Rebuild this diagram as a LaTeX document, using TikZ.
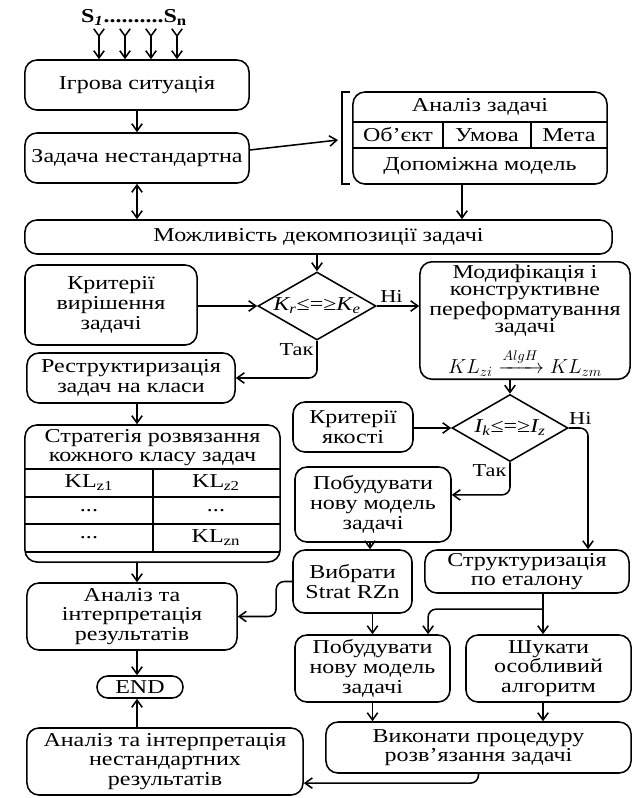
\documentclass[tikz,border=0pt]{standalone}
\usepackage{fontspec}
\setmainfont[FakeStretch=1.22]{Liberation Serif}
\usepackage{amsmath}
\usetikzlibrary{arrows.meta,shapes.geometric,calc}
\tikzset{
	blk/.style={draw, line width=1.1pt, rounded corners=3mm, align=center, inner sep=2pt},
	dia/.style={draw, diamond, line width=1.1pt, inner sep=0pt},
	arr/.style={line width=1.1pt, rounded corners=2mm, -{Straight Barb[length=1.8mm,width=2.6mm]}},
	arrr/.style={line width=1.1pt, {Straight Barb[length=1.8mm,width=2.6mm]}-{Straight Barb[length=1.8mm,width=2.6mm]}},
	feed/.style={line width=1.1pt, {Straight Barb[reversed,length=1.8mm,width=2.6mm]}-{Straight Barb[length=1.8mm,width=2.6mm]}},
	lbl/.style={font=\fontsize{13}{13}\selectfont, inner sep=2pt},
	cell/.style={inner sep=0pt},
}

\begin{document}
\begin{tikzpicture}[x=0.025cm, y=-0.025cm, font=\fontsize{14}{14}\selectfont]
		%%%%% START %%%%%
		
		\useasboundingbox (0,0) rectangle (633,798);
		\coordinate (colL) at (137,0);
		
		\node (src) at (134,17) {\bfseries S\textsubscript{\itshape 1}..........S\textsubscript{n}};
		\foreach \x [count=\i] in {99,125,151,177}
			\coordinate (s\i) at (\x,28);
		
		\node[blk, minimum width=5.6cm, minimum height=1.25cm] (igr) at (137,85) {Ігрова ситуація};
		\node[blk, minimum width=5.6cm, minimum height=1.25cm] (zad) at (137,158) {Задача нестандартна};
		\node[blk, minimum width=14.675cm, minimum height=0.85cm] (dek) at (318.5,237) {Можливість декомпозиції задачі};
		
		\node[blk, minimum width=6.35cm, minimum height=2.3cm] (anl) at (480,138) {};
		\draw[line width=1.1pt] (353,122) -- (607,122);
		\draw[line width=1.1pt] (353,148) -- (607,148);
		\draw[line width=1.1pt] (443,122) -- (443,148);
		\draw[line width=1.1pt] (531,122) -- (531,148);
		\node (anlt) at (480,107) {Аналіз задачі};
		\node (obj) at (398,135) {Об'єкт};
		\node (umv) at (487,135) {Умова};
		\node (met) at (569,135) {Мета};
		\node (dop) at (480,166) {Допоміжна модель};
		\draw[line width=1.1pt] (350,92) -- (342,92) -- (342,184) -- (350,184);
		\coordinate (brk) at (338,140);
		
		\node[blk, minimum width=4.3cm, minimum height=2.0cm] (kr1) at (111,305) {Критерії\\вирішення\\задачі};
		\node[dia, minimum width=2.95cm, minimum height=1.7cm,
			label={center:\textit{K\textsubscript{r}}≤=≥\textit{K\textsubscript{e}}}] (dia1) at (317,306) {};
		\node[blk, minimum width=5.25cm, minimum height=2.825cm, font=\fontsize{14}{12.5}\selectfont] (mod) at (525,320.5)
			{Модифікація і\\конструктивне\\переформатування\\задачі\\[8pt]$KL_{zi}\xrightarrow{AlgH}KL_{zm}$};
		\node[blk, minimum width=5.2cm, minimum height=1.25cm] (res) at (131,378) {Реструктиризація\\задач на класи};
		
		\node[blk, minimum width=6.375cm, minimum height=3.425cm] (str) at (152.5,493.5) {};
		\node[align=center] (strt) at (152.5,447.5) {Стратегія розвязання\\кожного класу задач};
		\foreach \y in {469,497,524,552}
			\draw[line width=1.1pt] (25,\y) -- (280,\y);
		\draw[line width=1.1pt] (153,469) -- (153,552);
		\node[cell] (c11) at (89,483) {KL\textsubscript{z1}};
		\node[cell] (c12) at (216,483) {KL\textsubscript{\itshape z\upshape 2}};
		\node[cell] (c21) at (89,510.5) {...};
		\node[cell] (c22) at (216,510.5) {...};
		\node[cell] (c31) at (89,538) {...};
		\node[cell] (c32) at (216,538) {KL\textsubscript{zn}};
		
		\node[blk, minimum width=3.0cm, minimum height=1.25cm] (kr2) at (353,427) {Критерії\\якості};
		\node[dia, minimum width=2.9cm, minimum height=1.675cm,
			label={center:\textit{I\textsubscript{k}}≤=≥\textit{I\textsubscript{z}}}] (dia2) at (510,428) {};
		\node[blk, minimum width=3.9cm, minimum height=1.875cm] (bld1) at (373,504.5) {Побудувати\\нову модель\\задачі};
		\node[blk, minimum width=2.975cm, minimum height=1.575cm] (vyb) at (352.5,581.5) {Вибрати\\Strat RZn};
		\node[blk, minimum width=5.1cm, minimum height=1.075cm] (stc) at (527,571.5) {Структуризація\\по еталону};
		
		\node[blk, minimum width=5.25cm, minimum height=1.675cm] (an1) at (132,616.5) {Аналіз та\\інтерпретація\\результатів};
		\node[blk, minimum width=2.15cm, minimum height=0.55cm, rounded corners=2.7mm, inner sep=1pt] (endb) at (140,687) {END};
		\node[blk, minimum width=3.875cm, minimum height=1.675cm] (bld2) at (372.5,668.5) {Побудувати\\нову модель\\задачі};
		\node[blk, minimum width=4.125cm, minimum height=1.675cm] (shk) at (548.5,668.5) {Шукати\\особливий\\алгоритм};
		\node[blk, minimum width=7.625cm, minimum height=1.275cm] (exe) at (478.5,747.5) {Виконати процедуру\\розв'язання задачі};
		\node[blk, minimum width=6.9cm, minimum height=1.675cm] (an2) at (165,761.5) {Аналіз та інтерпретація\\нестандартних\\результатів};
		
		%% connectors
		\foreach \i in {1,...,4}
			\draw[feed] (s\i) -- (s\i |- igr.north);
		\draw[arr] (igr.south -| colL) -- (zad.north -| colL);
		\draw[arrr] (zad.south -| colL) -- (dek.north -| colL);
		\draw[arr] ([yshift=0.2cm]zad.east) -- (brk);
		\draw[arr] ([xshift=-0.45cm]anl.south) -- ([xshift=-0.45cm]anl.south |- dek.north);
		\draw[arr] (dek.south -| dia1) -- (dia1.north);
		
		\draw[arr] (kr1.east |- dia1) -- (dia1.west);
		\draw[arr] (dia1.east) -- (dia1.east -| mod.west) node[lbl, above right, pos=0] {Ні};
		\draw[arr] (dia1.south) |- (res.east) node[lbl, left, pos=0.12] {Так};
		\draw[arr] (res.south -| colL) -- (str.north -| colL);
		\draw[arr] (str.south -| colL) -- (an1.north -| colL);
		\draw[arr] (an1.south -| colL) -- (endb.north -| colL);
		\draw[arr] (an2.north -| colL) -- (endb.south -| colL);
		
		\draw[arr] (mod.south -| dia2) -- (dia2.north);
		\draw[arr] (kr2.east |- dia2) -- (dia2.west);
		\draw[arr] (dia2.east) -| ([xshift=1.525cm]stc.north) node[lbl, above, pos=0.3] {Ні};
		\draw[arr] (dia2.south) |- ([yshift=0.24cm]bld1.east) node[lbl, left, pos=0.12] {Так};
		\draw[arr] (bld1.south -| 370,0) -- (vyb.north -| 370,0);
		\draw[arr] (vyb.west) -- ++(-16,0) |- (an1.east);
		
		\coordinate (sb) at ([xshift=0.4cm]stc.south);
		\draw[arr] (sb) -- (sb |- shk.north);
		\draw[arr] ($(sb)!0.38!(sb |- shk.north)$) -| ([xshift=1.39cm]bld2.north);
		\draw[arr] (vyb.south -| bld2) -- (bld2.north);
		\draw[arr] (bld2.south) -- (bld2.south |- exe.north);
		\draw[arr] (shk.south -| sb) -- (sb |- exe.north);
		\draw[arr] (exe.south) |- ([yshift=-0.54cm]an2.east);
		
		%%%%% END %%%%%
	\end{tikzpicture}
\end{document}
